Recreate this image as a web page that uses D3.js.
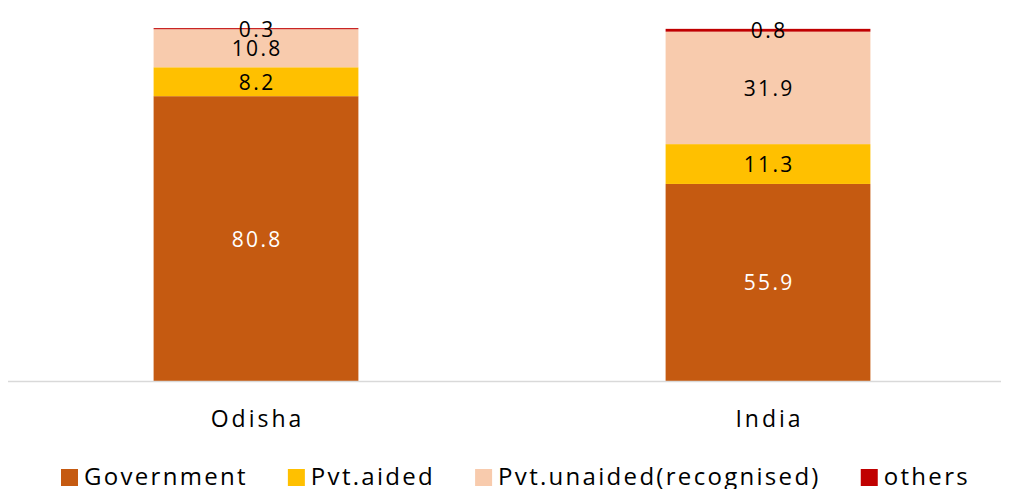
<!DOCTYPE html>
<html><head><meta charset="utf-8">
<script src="https://cdn.jsdelivr.net/npm/d3@7"></script>
<style>body{margin:0;background:#fff}svg{display:block}text{font-family:"Open Sans",sans-serif}</style>
</head><body><svg id="c" width="1009" height="489"></svg>
<script>
const categories = ["Odisha", "India"];
const seriesNames = ["Government", "Pvt.aided", "Pvt.unaided(recognised)", "others"];
const government = [80.8, 55.9];
const pvtAided = [8.2, 11.3];
const pvtUnaided = [10.8, 31.9];
const others = [0.3, 0.8];
const colors = ["#C55A11", "#FFC000", "#F8CBAD", "#C00000"];
const labelColors = ["#ffffff", "#000000", "#000000", "#000000"];

const seriesVals = [government, pvtAided, pvtUnaided, others];
const rows = categories.map((c, i) => {
  const r = {cat: c};
  seriesNames.forEach((s, j) => r[s] = seriesVals[j][i]);
  return r;
});
const stack = d3.stack().keys(seriesNames)(rows);

const svg = d3.select("#c");
const x = d3.scaleBand().domain(categories).range([0, 1024]).paddingInner(0.6).paddingOuter(0.3);
const y = d3.scaleLinear().domain([0, 100]).range([381, 28.5]);

stack.forEach((layer, j) => {
  const g = svg.append("g");
  g.selectAll("rect").data(layer).join("rect")
    .attr("x", d => x(d.data.cat))
    .attr("width", x.bandwidth())
    .attr("y", d => y(d[1]))
    .attr("height", d => y(d[0]) - y(d[1]))
    .attr("fill", colors[j]);
});
const ls = 2.4;
stack.forEach((layer, j) => {
  svg.append("g").selectAll("text").data(layer).join("text")
    .attr("x", d => x(d.data.cat) + x.bandwidth() / 2 + ls / 2)
    .attr("y", d => (y(d[0]) + y(d[1])) / 2)
    .attr("dy", "0.38em")
    .attr("text-anchor", "middle")
    .attr("font-size", 21)
    .attr("letter-spacing", ls)
    .attr("fill", labelColors[j])
    .text(d => (d[1] - d[0]).toFixed(1));
});

const axis = svg.append("g").attr("transform", "translate(0,381)")
  .call(d3.axisBottom(x).tickSize(0).tickPadding(30));
axis.select(".domain").attr("d", "M8,0.5H1001").attr("stroke", "#d9d9d9").attr("stroke-width", 1.5);
axis.selectAll("text").attr("font-size", 23).attr("letter-spacing", 3).attr("dx", 1.5)
  .attr("fill", "#000").style("font-family", '"Open Sans",sans-serif');

// legend
const leg = svg.append("g");
const sq = 17, gapT = 6, gapI = 40;
const items = seriesNames.map((s, j) => {
  const g = leg.append("g");
  g.append("rect").attr("width", sq).attr("height", sq).attr("y", -sq/2 + 1).attr("fill", colors[j]);
  const t = g.append("text").attr("x", sq + gapT).attr("dy", "0.36em").attr("font-size", 24)
    .attr("letter-spacing", 2.3).attr("fill", "#000").text(s);
  return {g, w: sq + gapT + t.node().getComputedTextLength()};
});
const total = d3.sum(items, d => d.w) + gapI * (items.length - 1);
let cx = 515.5 - total / 2;
items.forEach(it => { it.g.attr("transform", `translate(${cx},476.5)`); cx += it.w + gapI; });
</script></body></html>
